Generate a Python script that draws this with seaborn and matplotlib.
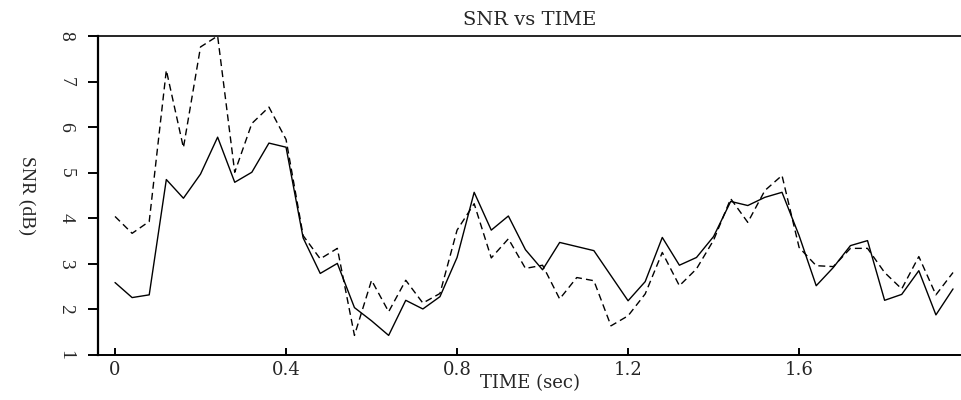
import numpy as np
import pandas as pd
import seaborn as sns
import matplotlib
matplotlib.use("Agg")
import matplotlib.pyplot as plt
import matplotlib.transforms as mtransforms

# Time samples (sec)
time_sec = [round(0.04 * i, 2) for i in range(50)]

# SNR (dB) of the two traces
snr_solid = [2.59, 2.26, 2.32, 4.85, 4.44, 4.97, 5.78, 4.79, 5.01, 5.65,
             5.56, 3.57, 2.79, 3.01, 2.04, 1.75, 1.43, 2.20, 2.01, 2.28,
             3.14, 4.57, 3.74, 4.05, 3.31, 2.87, 3.47, 3.38, 3.29, 2.74,
             2.19, 2.61, 3.58, 2.97, 3.14, 3.60, 4.37, 4.28, 4.46, 4.57,
             3.62, 2.52, 2.92, 3.40, 3.51, 2.20, 2.33, 2.85, 1.88, 2.45]
snr_dashed = [4.04, 3.67, 3.93, 7.25, 5.55, 7.76, 8.00, 5.01, 6.08, 6.44,
              5.73, 3.62, 3.11, 3.34, 1.43, 2.64, 1.95, 2.64, 2.14, 2.35,
              3.74, 4.32, 3.13, 3.55, 2.90, 2.97, 2.23, 2.70, 2.63, 1.64,
              1.86, 2.34, 3.25, 2.52, 2.89, 3.52, 4.43, 3.91, 4.61, 4.94,
              3.36, 2.96, 2.94, 3.34, 3.34, 2.81, 2.45, 3.16, 2.32, 2.81]

x_ticks = [0, 0.4, 0.8, 1.2, 1.6]
x_tick_labels = ["0", "0.4", "0.8", "1.2", "1.6"]
y_ticks = [1, 2, 3, 4, 5, 6, 7, 8]

df = pd.DataFrame({
    "time": time_sec * 2,
    "snr": snr_solid + snr_dashed,
    "trace": ["a"] * len(time_sec) + ["b"] * len(time_sec),
})

sns.set_style("ticks")
plt.rcParams["font.family"] = ["DejaVu Serif", "DejaVu Sans"]

fig = plt.figure(figsize=(9.62, 4.0), dpi=100)
ax = fig.add_axes([98 / 962, 1 - 355 / 400, 1 - 98 / 962, (355 - 36) / 400])

sns.lineplot(data=df, x="time", y="snr", style="trace",
             dashes={"a": "", "b": (5, 3)}, color="black", linewidth=1.0,
             legend=False, ax=ax)

ax.set_xlim(-0.0398, 1.981)
ax.set_ylim(1, 8)

ax.set_xticks(x_ticks)
ax.set_xticklabels(x_tick_labels, fontsize=13)
ax.set_yticks(y_ticks)
ax.set_yticklabels([str(v) for v in y_ticks], rotation=-90, fontsize=14,
                   va="center", ha="center", family="Liberation Serif")

ax.tick_params(axis="x", direction="in", length=5, width=1.2, color="black",
               pad=4, bottom=True, top=False)
ax.tick_params(axis="y", direction="out", length=7, width=1.2, color="black",
               pad=16, left=True, right=False)

# Tick marks: outward on the SNR axis, inward on the time axis
bw = ax.get_position().width * fig.get_figwidth() * fig.dpi
bh = ax.get_position().height * fig.get_figheight() * fig.dpi
ytrans = mtransforms.blended_transform_factory(ax.transAxes, ax.transData)
xtrans = mtransforms.blended_transform_factory(ax.transData, ax.transAxes)
for yv in y_ticks:
    ax.plot([-10 / bw, 0], [yv, yv], color="black", linewidth=1.2,
            transform=ytrans, clip_on=False, solid_capstyle="butt")
for xv in x_ticks:
    ax.plot([xv, xv], [0, 7 / bh], color="black", linewidth=1.2,
            transform=xtrans, clip_on=False, solid_capstyle="butt")

for side in ["left", "bottom", "top"]:
    ax.spines[side].set_visible(True)
    ax.spines[side].set_color("black")
ax.spines["left"].set_linewidth(1.6)
ax.spines["bottom"].set_linewidth(1.4)
ax.spines["top"].set_linewidth(1.2)
ax.spines["right"].set_visible(False)

ax.set_xlabel("TIME (sec)", fontsize=13, labelpad=-3)
ax.set_ylabel("SNR (dB)", fontsize=14, rotation=-90, family="Liberation Serif",
              va="center")
ax.yaxis.set_label_coords(-0.083, 0.5)
ax.set_title("SNR vs TIME", fontsize=14, pad=8)

fig.savefig("out.png", dpi=100)
